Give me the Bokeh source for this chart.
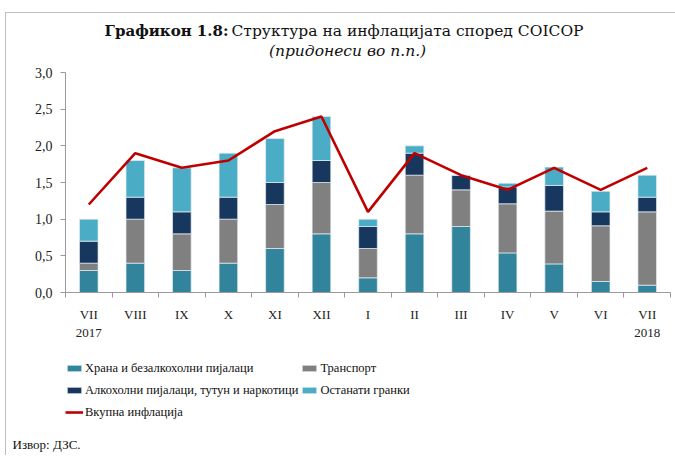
from bokeh.plotting import figure
from bokeh.layouts import column
from bokeh.models import (FixedTicker, Legend, LegendItem, Label, ColumnDataSource, Range1d,
                          Title)
from bokeh.embed import file_html
from bokeh.resources import INLINE

# ---- data ----
months = ["VII\n2017", "VIII", "IX", "X", "XI", "XII", "I", "II", "III", "IV", "V", "VI", "VII\n2018"]
food = [0.30, 0.40, 0.30, 0.40, 0.60, 0.80, 0.20, 0.80, 0.90, 0.54, 0.39, 0.15, 0.10]
transport = [0.10, 0.60, 0.50, 0.60, 0.60, 0.70, 0.40, 0.80, 0.50, 0.67, 0.72, 0.76, 1.00]
alcohol = [0.30, 0.30, 0.30, 0.30, 0.30, 0.30, 0.30, 0.30, 0.20, 0.23, 0.35, 0.19, 0.20]
other = [0.30, 0.50, 0.60, 0.60, 0.60, 0.60, 0.10, 0.10, 0.00, 0.05, 0.25, 0.28, 0.30]
total = [1.2, 1.9, 1.7, 1.8, 2.2, 2.4, 1.1, 1.9, 1.6, 1.4, 1.7, 1.4, 1.7]
y_ticks = [0.0, 0.5, 1.0, 1.5, 2.0, 2.5, 3.0]
y_tick_labels = ["0,0", "0,5", "1,0", "1,5", "2,0", "2,5", "3,0"]

series_names = ["Храна и безалкохолни пијалаци", "Транспорт",
                "Алкохолни пијалаци, тутун и наркотици", "Останати гранки"]
total_name = "Вкупна инфлација"
title_bold = "Графикон 1.8:"
title_rest = "Структура на инфлацијата според COICOP"
subtitle = "(придонеси во п.п.)"
source_note = "Извор: ДЗС."

colors = ["#31849B", "#808080", "#17375E", "#4BACC6"]
line_color = "#C00000"
serif = "Liberation Serif"
title_font = "DejaVu Serif"
text_col = "#111111"
stack_cols = ["food", "transport", "alcohol", "other"]

W = 669
ML, MR = 59, 5

# ---- header (titles); frames of the column are aligned to the main chart frame ----
head = figure(width=W, height=50, output_backend="svg", toolbar_location=None,
              x_range=Range1d(0, 1), y_range=Range1d(0, 1),
              min_border_left=ML, min_border_right=MR, min_border_top=0, min_border_bottom=0,
              x_axis_location=None, y_axis_location=None)
head.outline_line_color = None
head.grid.grid_line_color = None
head.add_layout(Label(x=163, y=33, x_units="screen", y_units="screen", text=title_bold,
                      text_font=title_font, text_font_style="bold", text_font_size="15px",
                      text_align="right", text_baseline="middle", text_color=text_col))
head.add_layout(Label(x=166, y=33, x_units="screen", y_units="screen", text=title_rest,
                      text_font=title_font, text_font_size="15.5px",
                      text_align="left", text_baseline="middle", text_color=text_col))
head.add_layout(Label(x=282, y=13, x_units="screen", y_units="screen", text=subtitle,
                      text_font=title_font, text_font_style="italic", text_font_size="15.5px",
                      text_align="center", text_baseline="middle", text_color=text_col))

# ---- main chart ----
x = list(range(len(months)))
src = ColumnDataSource(dict(x=x, food=food, transport=transport, alcohol=alcohol,
                            other=other, total=total))

p = figure(width=W, height=282, output_backend="svg", toolbar_location=None,
           x_range=Range1d(-0.5, len(months) - 0.5), y_range=Range1d(0, 3.0),
           min_border_left=ML, min_border_right=MR, min_border_top=9, min_border_bottom=53)
p.outline_line_color = None
p.grid.grid_line_color = None

bars = p.vbar_stack(stack_cols, x="x", width=0.40,
                    color=colors, line_color="#e6eef2", line_width=0.7, source=src)
ln = p.line("x", "total", source=src, line_color=line_color, line_width=2.6)

axis_col = "#9a9a9a"
p.xaxis.ticker = FixedTicker(ticks=x, minor_ticks=[i - 0.5 for i in range(len(months) + 1)])
p.xaxis.major_label_overrides = {i: m for i, m in enumerate(months)}
p.xaxis.major_tick_line_color = None
p.xaxis.minor_tick_line_color = axis_col
p.xaxis.minor_tick_in = 0
p.xaxis.minor_tick_out = 5
p.xaxis.axis_line_color = axis_col
p.xaxis.major_label_standoff = 8
p.xaxis.major_label_text_font = serif
p.xaxis.major_label_text_font_size = "13px"
p.xaxis.major_label_text_color = "#222222"

p.yaxis.ticker = FixedTicker(ticks=y_ticks, minor_ticks=[])
p.yaxis.major_label_overrides = {t: l for t, l in zip(y_ticks, y_tick_labels)}
p.yaxis.major_tick_in = 0
p.yaxis.major_tick_out = 5
p.yaxis.major_tick_line_color = axis_col
p.yaxis.axis_line_color = axis_col
p.yaxis.major_label_standoff = 8
p.yaxis.major_label_text_font = serif
p.yaxis.major_label_text_font_size = "14px"
p.yaxis.major_label_text_color = "#222222"

# ---- footer: legend + source ----
foot = figure(width=W, height=110, output_backend="svg", toolbar_location=None,
              x_range=Range1d(0, 1), y_range=Range1d(0, 1),
              min_border_left=ML, min_border_right=MR, min_border_top=0, min_border_bottom=22,
              x_axis_location=None, y_axis_location=None)
foot.outline_line_color = None
foot.grid.grid_line_color = None
# hidden copies of the series, used only as legend keys for this panel
keys = foot.vbar_stack(stack_cols, x="x", width=0.40, color=colors, line_color="#e6eef2",
                       line_width=0.7, source=src)
key_line = foot.line("x", "total", source=src, line_color=line_color, line_width=2.6)
for r in list(keys) + [key_line]:
    r.visible = False
items = [LegendItem(label=series_names[i], renderers=[keys[i]]) for i in range(4)]
items.append(LegendItem(label=total_name, renderers=[key_line]))
legend = Legend(items=items, orientation="horizontal", ncols=2, location=(0, 11),
                glyph_width=18, glyph_height=8, label_height=20, spacing=2,
                label_standoff=2, padding=0, margin=0, border_line_color=None,
                background_fill_alpha=0, label_text_font=serif, label_text_font_size="12.5px",
                label_text_color=text_col, click_policy="none")
foot.add_layout(legend, "center")
foot.add_layout(Title(text=source_note, align="left", offset=-53, text_font=serif,
                      text_font_size="13px", text_font_style="normal", text_color=text_col,
                      standoff=2), "below")

layout = column(head, p, foot, spacing=0,
                styles={"margin-left": "5px", "margin-top": "12px",
                        "border-left": "1px solid #bfbfbf", "border-top": "1px solid #bfbfbf"})

open("out.html", "w").write(file_html(layout, INLINE))
